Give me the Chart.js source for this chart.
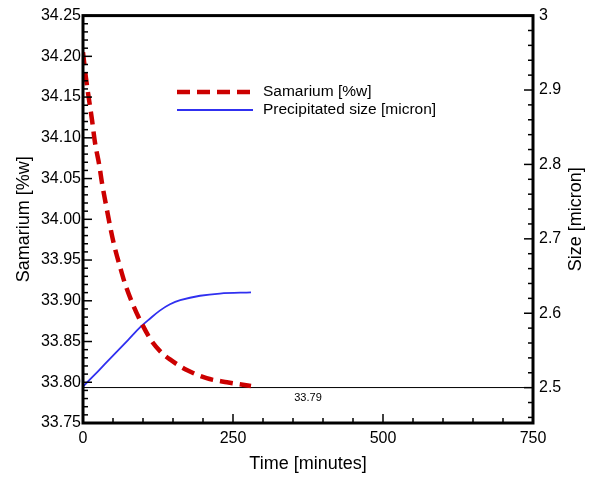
<!DOCTYPE html>
<html>
<head>
<meta charset="utf-8">
<script src="https://cdn.jsdelivr.net/npm/chart.js@4"></script>
<style>
  body { margin: 0; background: #fff; }
  #wrap { width: 595px; height: 480px; }
</style>
</head>
<body>
<div id="wrap"><canvas id="myChart"></canvas></div>
<script>
// time [minutes] for the Samarium curve
const timeSm = [0, 5, 10, 15, 20, 27, 32, 38, 45, 52, 62, 70, 84, 98, 114, 130, 145, 173, 206, 240, 280];
// Samarium [%w]
const samarium = [34.205, 34.173, 34.147, 34.122, 34.094, 34.067, 34.043, 34.019, 33.992, 33.968, 33.941, 33.921, 33.894, 33.872, 33.851, 33.837, 33.828, 33.815, 33.805, 33.800, 33.7955];
// time [minutes] for the size curve
const timeSize = [0, 25, 50, 75, 95, 112, 128, 145, 162, 195, 228, 280];
// Precipitated size [micron]
const sizeMicron = [2.5015, 2.522, 2.543, 2.564, 2.581, 2.593, 2.6035, 2.612, 2.6175, 2.6235, 2.6265, 2.628];
// reference line
const refLine = 33.7935;
const refLabel = "33.79";
const refLabelAt = 375;

const seriesNames = ["Samarium [%w]", "Precipitated size [micron]"];
const redColor = "#cc0000";
const blueColor = "#3030f0";
const FONT = "'Liberation Sans', Arial, sans-serif";

function isMult(v, step) {
    const r = v / step;
    return Math.abs(r - Math.round(r)) < 1e-6;
}

// ticks inside, box, legend, titles
const decorPlugin = {
    id: "decor",
    afterDraw(chart) {
        const { ctx, chartArea: a, scales } = chart;
        ctx.save();
        ctx.strokeStyle = "#000";
        ctx.lineWidth = 1.5;
        // x ticks
        scales.x.ticks.forEach((t) => {
            const px = scales.x.getPixelForValue(t.value);
            const len = isMult(t.value, 250) ? 9 : 5;
            ctx.beginPath();
            ctx.moveTo(px, a.bottom);
            ctx.lineTo(px, a.bottom - len);
            ctx.stroke();
        });
        scales.y.ticks.forEach((t) => {
            const py = scales.y.getPixelForValue(t.value);
            const len = isMult(t.value, 0.05) ? 9 : 5;
            ctx.beginPath();
            ctx.moveTo(a.left, py);
            ctx.lineTo(a.left + len, py);
            ctx.stroke();
        });
        scales.y2.ticks.forEach((t) => {
            const py = scales.y2.getPixelForValue(t.value);
            const len = isMult(t.value, 0.1) ? 9 : 5;
            ctx.beginPath();
            ctx.moveTo(a.right, py);
            ctx.lineTo(a.right - len, py);
            ctx.stroke();
        });
        // box
        ctx.lineWidth = 3;
        ctx.strokeRect(a.left, a.top, a.right - a.left, a.bottom - a.top);

        // reference label
        ctx.fillStyle = "#000";
        ctx.font = "11px " + FONT;
        ctx.textAlign = "center";
        ctx.textBaseline = "middle";
        ctx.fillText(refLabel, scales.x.getPixelForValue(refLabelAt), scales.y.getPixelForValue(refLine) + 10);

        // legend
        ctx.lineWidth = 4.5;
        ctx.strokeStyle = redColor;
        ctx.setLineDash([13, 7]);
        ctx.beginPath();
        ctx.moveTo(177, 92);
        ctx.lineTo(253, 92);
        ctx.stroke();
        ctx.setLineDash([]);
        ctx.lineWidth = 1.8;
        ctx.strokeStyle = blueColor;
        ctx.beginPath();
        ctx.moveTo(177, 110);
        ctx.lineTo(253, 110);
        ctx.stroke();
        ctx.font = "15.5px " + FONT;
        ctx.textAlign = "left";
        ctx.fillText(seriesNames[0], 263, 92);
        ctx.fillText(seriesNames[1], 263, 110);

        // axis titles
        ctx.font = "18px " + FONT;
        ctx.textAlign = "center";
        ctx.fillText("Time [minutes]", (a.left + a.right) / 2, 464);
        const cy = (a.top + a.bottom) / 2;
        ctx.save();
        ctx.translate(24, cy);
        ctx.rotate(-Math.PI / 2);
        ctx.fillText("Samarium [%w]", 0, 0);
        ctx.restore();
        ctx.save();
        ctx.translate(576, cy);
        ctx.rotate(-Math.PI / 2);
        ctx.fillText("Size [micron]", 0, 0);
        ctx.restore();
        ctx.restore();
    },
};

const ctx = document.getElementById("myChart").getContext("2d");
const myChart = new Chart(ctx, {
    type: "line",
    data: {
        datasets: [
            {
                label: seriesNames[0],
                data: timeSm.map((t, i) => ({ x: t, y: samarium[i] })),
                borderColor: redColor,
                borderWidth: 4.5,
                borderDash: [13, 7],
                pointRadius: 0,
                cubicInterpolationMode: "monotone",
                yAxisID: "y",
            },
            {
                label: seriesNames[1],
                data: timeSize.map((t, i) => ({ x: t, y: sizeMicron[i] })),
                borderColor: blueColor,
                borderWidth: 1.8,
                pointRadius: 0,
                tension: 0.35,
                yAxisID: "y2",
            },
            {
                label: "ref",
                data: [{ x: 0, y: refLine }, { x: 750, y: refLine }],
                borderColor: "#000",
                borderWidth: 1,
                pointRadius: 0,
                yAxisID: "y",
            },
        ],
    },
    options: {
        responsive: true,
        maintainAspectRatio: false,
        animation: false,
        layout: { padding: { top: 14, left: 0, right: 0, bottom: 0 } },
        plugins: { legend: { display: false }, tooltip: { enabled: false } },
        scales: {
            x: {
                type: "linear",
                min: 0,
                max: 750,
                grid: { display: false, drawTicks: false },
                border: { display: false },
                afterFit: (s) => { s.height = 57; },
                ticks: {
                    stepSize: 50,
                    autoSkip: false,
                    maxRotation: 0,
                    padding: 6,
                    color: "#000",
                    font: { family: FONT, size: 16 },
                    callback: (v) => (isMult(v, 250) ? String(v) : ""),
                },
            },
            y: {
                position: "left",
                min: 33.75,
                max: 34.25,
                grid: { display: false, drawTicks: false },
                border: { display: false },
                afterFit: (s) => { s.width = 83; },
                ticks: {
                    stepSize: 0.01,
                    maxTicksLimit: 100,
                    autoSkip: false,
                    padding: 2,
                    color: "#000",
                    font: { family: FONT, size: 16 },
                    callback: (v) => (isMult(v, 0.05) ? v.toFixed(2) : ""),
                },
            },
            y2: {
                position: "right",
                min: 2.4525,
                max: 3,
                grid: { display: false, drawTicks: false },
                border: { display: false },
                afterFit: (s) => { s.width = 62; },
                ticks: {
                    stepSize: 0.02,
                    includeBounds: false,
                    maxTicksLimit: 100,
                    autoSkip: false,
                    padding: 6,
                    color: "#000",
                    font: { family: FONT, size: 16 },
                    callback: (v) => (isMult(v, 0.1) ? String(Number(v.toFixed(1))) : ""),
                },
            },
        },
    },
    plugins: [decorPlugin],
});
</script>
</body>
</html>
